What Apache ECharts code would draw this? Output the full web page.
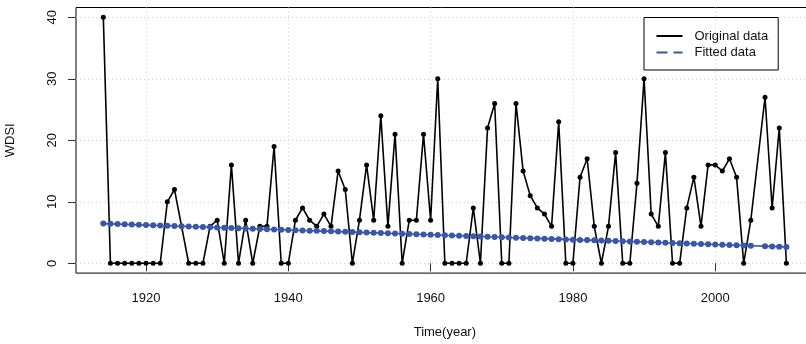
<!DOCTYPE html>
<html>
<head>
<meta charset="utf-8">
<script src="https://cdn.jsdelivr.net/npm/echarts@6/dist/echarts.min.js"></script>
<style>
	html, body { margin: 0; padding: 0; background: #fff; }
	#chart { width: 806px; height: 344px; }
</style>
</head>
<body>
<div id="chart"></div>
<script>
// years of record (no value for 2006)
let years = [1914, 1915, 1916, 1917, 1918, 1919, 1920, 1921, 1922, 1923, 1924, 1925, 1926, 1927, 1928, 1929,
	1930, 1931, 1932, 1933, 1934, 1935, 1936, 1937, 1938, 1939, 1940, 1941, 1942, 1943, 1944, 1945, 1946, 1947,
	1948, 1949, 1950, 1951, 1952, 1953, 1954, 1955, 1956, 1957, 1958, 1959, 1960, 1961, 1962, 1963, 1964, 1965,
	1966, 1967, 1968, 1969, 1970, 1971, 1972, 1973, 1974, 1975, 1976, 1977, 1978, 1979, 1980, 1981, 1982, 1983,
	1984, 1985, 1986, 1987, 1988, 1989, 1990, 1991, 1992, 1993, 1994, 1995, 1996, 1997, 1998, 1999, 2000, 2001,
	2002, 2003, 2004, 2005, 2007, 2008, 2009, 2010]

// WDSI, original data
let original = [40, 0, 0, 0, 0, 0, 0, 0, 0, 10, 12, 6, 0, 0, 0, 6,
	7, 0, 16, 0, 7, 0, 6, 6, 19, 0, 0, 7, 9, 7, 6, 8, 6, 15,
	12, 0, 7, 16, 7, 24, 6, 21, 0, 7, 7, 21, 7, 30, 0, 0, 0, 0,
	9, 0, 22, 26, 0, 0, 26, 15, 11, 9, 8, 6, 23, 0, 0, 14, 17, 6,
	0, 6, 18, 0, 0, 13, 30, 8, 6, 18, 0, 0, 9, 14, 6, 16, 16, 15,
	17, 14, 0, 7, 27, 9, 22, 0]

// WDSI, fitted trend
let fitted = [6.45, 6.41, 6.37, 6.33, 6.29, 6.25, 6.21, 6.17, 6.13, 6.09, 6.05, 6.02, 5.98, 5.94, 5.90, 5.86,
	5.82, 5.78, 5.74, 5.70, 5.66, 5.62, 5.58, 5.54, 5.50, 5.46, 5.42, 5.38, 5.34, 5.30, 5.27, 5.23, 5.19, 5.15,
	5.11, 5.07, 5.03, 4.99, 4.95, 4.91, 4.87, 4.83, 4.79, 4.75, 4.71, 4.67, 4.63, 4.59, 4.55, 4.52, 4.48, 4.44,
	4.40, 4.36, 4.32, 4.28, 4.24, 4.20, 4.16, 4.12, 4.08, 4.04, 4.00, 3.96, 3.92, 3.88, 3.84, 3.80, 3.77, 3.73,
	3.69, 3.65, 3.61, 3.57, 3.53, 3.49, 3.45, 3.41, 3.37, 3.33, 3.29, 3.25, 3.21, 3.17, 3.13, 3.09, 3.05, 3.02,
	2.98, 2.94, 2.90, 2.86, 2.78, 2.74, 2.70, 2.66]

let xTicks = [1920, 1940, 1960, 1980, 2000]
let yTicks = [0, 10, 20, 30, 40]

let chart = echarts.init(document.getElementById('chart'))

let font = 'Liberation Sans, Arial, sans-serif'
let gridLine = { show: true, lineStyle: { color: '#cfcfcf', type: [1, 3], width: 1 } }

let option = {
	animation: false,
	backgroundColor: '#fff',
	textStyle: { fontFamily: font },
	grid: {
		left: 76,
		right: -7.7,
		top: 7.5,
		bottom: 70.9,
		show: true,
		borderColor: '#000',
		borderWidth: 1,
		outerBoundsMode: 'none'
	},
	legend: {
		orient: 'vertical',
		left: 644,
		top: 17.5,
		padding: [12, 10, 11, 12.5],
		itemGap: 3.5,
		itemWidth: 26,
		itemHeight: 2,
		borderColor: '#000',
		borderWidth: 1,
		borderRadius: 0,
		itemStyle: { borderWidth: 0 },
		textStyle: { fontSize: 13, color: '#111', fontFamily: font, padding: [0, 0, 0, 7] },
		data: [
			{ name: 'Original data', icon: 'path://M0,0H26V2H0Z' },
			{ name: 'Fitted data', icon: 'path://M0,0H11V2H0Z M17,0H26V2H17Z' }
		]
	},
	xAxis: {
		type: 'value',
		min: 1910.16,
		max: 2013.84,
		name: 'Time(year)',
		nameLocation: 'middle',
		nameGap: 53,
		nameTextStyle: { fontSize: 13, color: '#111' },
		axisLine: { show: false },
		axisTick: { show: true, length: 8, customValues: xTicks, lineStyle: { color: '#333' } },
		axisLabel: { customValues: xTicks, margin: 19, fontSize: 13, color: '#111', formatter: v => String(v) },
		splitLine: gridLine
	},
	yAxis: {
		type: 'value',
		min: -1.6,
		max: 41.6,
		name: 'WDSI',
		nameLocation: 'middle',
		nameRotate: 90,
		nameGap: 59,
		nameTextStyle: { fontSize: 13, color: '#111' },
		axisLine: { show: false },
		axisTick: { show: true, length: 8, customValues: yTicks, lineStyle: { color: '#333' } },
		axisLabel: { customValues: yTicks, rotate: 90, margin: 17, fontSize: 13, color: '#111' },
		splitLine: gridLine
	},
	series: [{
			name: 'Original data',
			type: 'line',
			data: years.map((y, i) => [y, original[i]]),
			symbol: 'circle',
			symbolSize: 5,
			color: '#000',
			lineStyle: { color: '#000', width: 1.6 },
			itemStyle: { color: '#000' }
		},
		{
			name: 'Fitted data',
			type: 'line',
			data: years.map((y, i) => [y, fitted[i]]),
			symbol: 'circle',
			symbolSize: 6,
			color: '#3a56a8',
			lineStyle: { color: '#3a56a8', width: 1.6 },
			itemStyle: { color: '#3a56a8' }
		}
	]
}

chart.setOption(option)
</script>
</body>
</html>
